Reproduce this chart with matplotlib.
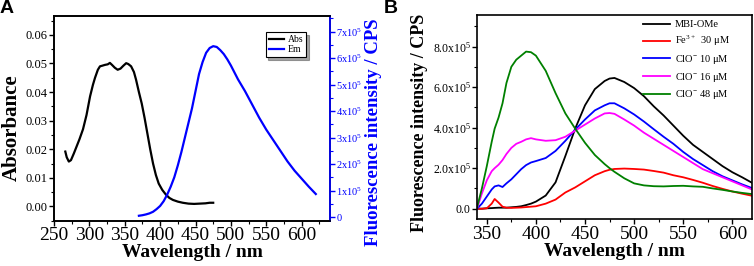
import numpy as np
import matplotlib
matplotlib.use("Agg")
import matplotlib.pyplot as plt
from matplotlib.ticker import MultipleLocator

plt.rcParams['font.family'] = ['Liberation Serif', 'DejaVu Serif']
plt.rcParams['mathtext.fontset'] = 'custom'
plt.rcParams['mathtext.rm'] = 'Liberation Serif'
plt.rcParams['mathtext.it'] = 'Liberation Serif:italic'
plt.rcParams['mathtext.bf'] = 'Liberation Serif:bold'

# ---- panel A data ----
abs_wl = [266, 268, 271, 274, 278, 282, 286, 291, 296, 301, 305, 308, 312, 315, 318,
          322, 326, 329, 332, 336, 340, 344, 348, 352, 355, 359, 363, 366, 370, 374,
          378, 382, 386, 390, 394, 398, 403, 408, 413, 418, 425, 432, 440, 448, 456,
          464, 470, 475]
abs_val = [0.0192, 0.0172, 0.0157, 0.0162, 0.0185, 0.0210, 0.0235, 0.0270, 0.0320,
           0.0385, 0.0425, 0.0450, 0.0478, 0.0490, 0.0492, 0.0495, 0.0497, 0.0502,
           0.0495, 0.0485, 0.0478, 0.0482, 0.0492, 0.0501, 0.0498, 0.0490, 0.0470,
           0.0443, 0.0400, 0.0360, 0.0310, 0.0255, 0.0200, 0.0150, 0.0110, 0.0080,
           0.0058, 0.0042, 0.0030, 0.0023, 0.0017, 0.0013, 0.0010, 0.0009, 0.0010,
           0.0011, 0.0013, 0.0013]

em_wl = [370, 375, 380, 385, 390, 395, 400, 405, 410, 415, 420, 425, 430, 435, 440,
         445, 450, 455, 460, 465, 470, 475, 480, 485, 490, 495, 500, 510, 520, 530,
         540, 550, 560, 570, 580, 590, 600, 610, 620]
em_val = [0.05, 0.07, 0.1, 0.14, 0.2, 0.3, 0.42, 0.6, 0.85, 1.15, 1.5, 1.95, 2.45,
          3.0, 3.55, 4.1, 4.75, 5.4, 5.85, 6.2, 6.38, 6.45, 6.42, 6.3, 6.15, 5.95,
          5.72, 5.2, 4.75, 4.25, 3.75, 3.3, 2.9, 2.5, 2.1, 1.75, 1.45, 1.15, 0.87]
em_val = [v * 1e5 for v in em_val]

# ---- panel B data (x1e5 CPS) ----
wl_b = [340, 345, 350, 355, 358, 362, 366, 370, 375, 380, 385, 390, 395, 400, 410,
        420, 430, 440, 450, 460, 470, 475, 480, 490, 500, 510, 520, 530, 540, 550,
        560, 570, 580, 590, 600, 610, 620]
mbi = [0.0, 0.0, 0.02, 0.03, 0.04, 0.05, 0.05, 0.05, 0.07, 0.09, 0.12, 0.18, 0.25,
       0.35, 0.65, 1.3, 2.6, 3.95, 5.1, 5.9, 6.3, 6.42, 6.45, 6.25, 5.95, 5.55, 5.05,
       4.6, 4.1, 3.6, 3.15, 2.8, 2.45, 2.1, 1.8, 1.55, 1.28]
fe30 = [0.0, 0.0, 0.02, 0.25, 0.48, 0.3, 0.1, 0.05, 0.04, 0.05, 0.06, 0.08, 0.1,
        0.12, 0.25, 0.45, 0.8, 1.05, 1.35, 1.65, 1.85, 1.92, 1.96, 1.98, 1.96, 1.93,
        1.86, 1.78, 1.65, 1.55, 1.42, 1.28, 1.12, 0.98, 0.85, 0.74, 0.64]
clo10 = [0.0, 0.25, 0.6, 0.95, 1.1, 1.15, 1.07, 1.25, 1.45, 1.7, 1.95, 2.15, 2.28,
         2.35, 2.5, 2.85, 3.35, 3.9, 4.4, 4.85, 5.1, 5.2, 5.2, 4.95, 4.65, 4.3, 3.92,
         3.55, 3.2, 2.8, 2.45, 2.15, 1.85, 1.6, 1.4, 1.2, 1.02]
clo16 = [0.0, 0.75, 1.4, 1.85, 2.0, 2.17, 2.4, 2.7, 3.0, 3.2, 3.3, 3.42, 3.48, 3.42,
         3.35, 3.38, 3.55, 3.85, 4.15, 4.45, 4.7, 4.72, 4.68, 4.4, 4.1, 3.75, 3.45,
         3.15, 2.85, 2.55, 2.25, 1.95, 1.75, 1.55, 1.35, 1.15, 0.95]
clo48 = [0.05, 1.0, 2.1, 3.3, 3.95, 4.5, 5.2, 6.2, 7.0, 7.35, 7.55, 7.75, 7.72, 7.55,
         6.8, 5.7, 4.7, 3.95, 3.25, 2.65, 2.2, 2.0, 1.82, 1.5, 1.25, 1.15, 1.11, 1.1,
         1.12, 1.13, 1.1, 1.08, 1.0, 0.93, 0.85, 0.78, 0.72]

series_b = [mbi, fe30, clo10, clo16, clo48]
labels_b = ['MBI-OMe', 'Fe$^{3+}$  30 μM', 'ClO$^{\\mathregular{-}}$ 10 μM',
            'ClO$^{\\mathregular{-}}$ 16 μM', 'ClO$^{\\mathregular{-}}$ 48 μM']
colors_b = ['black', '#ff0000', '#0000ff', '#ff00ff', '#008000']

right_ticks = [0, 1e5, 2e5, 3e5, 4e5, 5e5, 6e5, 7e5]
right_labels = ['0'] + ['%dx10$^5$' % k for k in range(1, 8)]
b_ticks = [0, 2e5, 4e5, 6e5, 8e5]
b_labels = ['0.0', '2.0x10$^5$', '4.0x10$^5$', '6.0x10$^5$', '8.0x10$^5$']

fig = plt.figure(figsize=(7.54, 2.66), dpi=100)

# ---------- panel A ----------
ax1 = fig.add_axes([0.0716, 0.170, 0.366, 0.771])
ax1.plot(abs_wl, abs_val, color='black', lw=1.6, label='Abs')
ax1.set_xlim(250, 640)
ax1.set_ylim(-0.005, 0.0667)
ax1.xaxis.set_major_locator(MultipleLocator(50))
ax1.xaxis.set_minor_locator(MultipleLocator(25))
ax1.yaxis.set_major_locator(MultipleLocator(0.01))
ax1.yaxis.set_minor_locator(MultipleLocator(0.005))
ax1.yaxis.set_major_formatter(matplotlib.ticker.FormatStrFormatter('%.2f'))
ax1.tick_params(axis='x', which='both', direction='out', labelsize=14, pad=1)
ax1.tick_params(axis='y', which='both', direction='out', labelsize=9, pad=1)
ax1.tick_params(which='major', length=3.5, width=1)
ax1.tick_params(which='minor', length=2, width=0.8)
ax1.set_xlabel('Wavelength / nm', fontsize=14, fontweight='bold', labelpad=0)
for s in ax1.spines.values():
    s.set_linewidth(1.2)

ax2 = ax1.twinx()
ax2.plot(em_wl, em_val, color='#0000ff', lw=1.6, label='Em')
ax2.set_ylim(-1.4e4, 7.6e5)
ax2.set_yticks(right_ticks)
ax2.set_yticklabels(right_labels)
ax2.yaxis.set_minor_locator(MultipleLocator(0.5e5))
ax2.tick_params(axis='y', which='both', direction='out', colors='#0000ff',
                labelsize=7.5, pad=1)
ax2.tick_params(which='major', length=3.5, width=1)
ax2.tick_params(which='minor', length=2, width=0.8)
for s in ax2.spines.values():
    s.set_linewidth(1.2)
ax2.spines['right'].set_color('#0000ff')

h1, l1 = ax1.get_legend_handles_labels()
h2, l2 = ax2.get_legend_handles_labels()
leg = ax2.legend(h1 + h2, l1 + l2, loc='upper right', bbox_to_anchor=(0.915, 0.92),
                 fontsize=7, frameon=True, fancybox=False, shadow=True,
                 edgecolor='black', handlelength=1.6, handletextpad=0.4,
                 labelspacing=0.15, borderpad=0.3, borderaxespad=0)
leg.get_frame().set_linewidth(0.8)

fig.text(11.5 / 754, 1 - 128 / 266, 'Absorbance', rotation=90, ha='center',
         va='center', fontsize=15, fontweight='bold')
fig.text(374 / 754, 1 - 132 / 266, 'Fluorescence intensity / CPS', rotation=90,
         ha='center', va='center', fontsize=13.5, fontweight='bold', color='#0000ff')

# ---------- panel B ----------
ax3 = fig.add_axes([0.6326, 0.175, 0.3647, 0.769])
for y, lab, c in zip(series_b, labels_b, colors_b):
    ax3.plot(wl_b, [v * 1e5 for v in y], color=c, lw=1.3, label=lab)
ax3.set_xlim(340, 620)
ax3.set_ylim(-0.53e5, 9.56e5)
ax3.xaxis.set_major_locator(MultipleLocator(50))
ax3.xaxis.set_minor_locator(MultipleLocator(25))
ax3.set_yticks(b_ticks)
ax3.set_yticklabels(b_labels)
ax3.yaxis.set_minor_locator(MultipleLocator(1e5))
ax3.tick_params(axis='x', which='both', direction='out', labelsize=14, pad=1)
ax3.tick_params(axis='y', which='both', direction='out', labelsize=8.5, pad=1)
ax3.tick_params(which='major', length=3.5, width=1)
ax3.tick_params(which='minor', length=2, width=0.8)
ax3.set_xlabel('Wavelength / nm', fontsize=14, fontweight='bold', labelpad=0)
for s in ax3.spines.values():
    s.set_linewidth(1.2)
ax3.legend(loc='upper right', bbox_to_anchor=(0.92, 0.975), fontsize=7.5,
           frameon=False, handlelength=2.6, handletextpad=0.5, labelspacing=0.45,
           borderaxespad=0, borderpad=0)

fig.text(420 / 754, 1 - 123 / 266, 'Fluorescence intensity / CPS', rotation=90,
         ha='center', va='center', fontsize=13, fontweight='bold')

fig.text(0.0, 1.0, 'A', ha='left', va='top', fontsize=14, fontweight='bold',
         family='Liberation Sans')
fig.text(384 / 754, 1.0, 'B', ha='left', va='top', fontsize=14, fontweight='bold',
         family='Liberation Sans')

fig.savefig('out.png', dpi=100)
